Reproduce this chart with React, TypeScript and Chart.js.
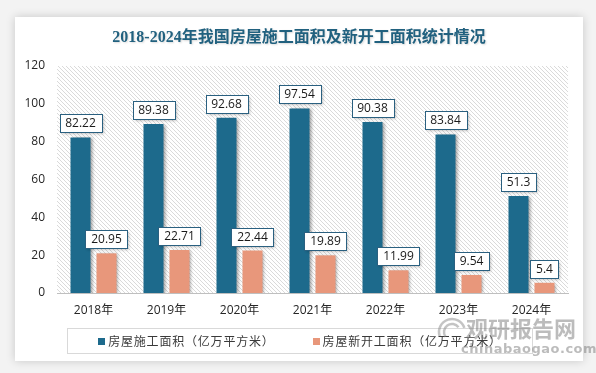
import React, { useEffect, useRef } from "react";
import { Chart, registerables } from "chart.js";

Chart.register(...registerables);

const chartTitle = "2018-2024年我国房屋施工面积及新开工面积统计情况";
const categories = ["2018年", "2019年", "2020年", "2021年", "2022年", "2023年", "2024年"];
const constructionArea = [82.22, 89.38, 92.68, 97.54, 90.38, 83.84, 51.3];
const newStartArea = [20.95, 22.71, 22.44, 19.89, 11.99, 9.54, 5.4];
const seriesNames = ["房屋施工面积（亿万平方米）", "房屋新开工面积（亿万平方米）"];
const seriesColors = ["#1d6a8c", "#e8977b"];
const yMin = 0;
const yMax = 120;
const yStep = 20;
const watermarkCn = "观研报告网";
const watermarkEn = "chinabaogao.com";

const W = 596;
const H = 373;
const FONT = "'Open Sans', 'Noto Sans CJK SC', sans-serif";

function makePattern(ctx: CanvasRenderingContext2D) {
  const c = document.createElement("canvas");
  c.width = 4;
  c.height = 4;
  const p = c.getContext("2d")!;
  p.fillStyle = "#ffffff";
  p.fillRect(0, 0, 4, 4);
  p.strokeStyle = "#dadada";
  p.lineWidth = 1;
  p.beginPath();
  p.moveTo(-1, -1);
  p.lineTo(5, 5);
  p.moveTo(-1, 3);
  p.lineTo(1, 5);
  p.moveTo(3, -1);
  p.lineTo(5, 1);
  p.stroke();
  return ctx.createPattern(c, "repeat");
}

const hatchPlugin = {
  id: "hatch",
  beforeDraw(chart: any) {
    const { ctx, chartArea } = chart;
    const pat = makePattern(ctx);
    if (!pat) return;
    ctx.save();
    ctx.fillStyle = pat;
    ctx.fillRect(chartArea.left, chartArea.top, chartArea.right - chartArea.left, chartArea.bottom - chartArea.top);
    ctx.restore();
    // title
    ctx.save();
    ctx.font = `bold 16px 'Liberation Serif', 'Noto Sans CJK SC', serif`;
    ctx.textAlign = "center";
    ctx.textBaseline = "middle";
    ctx.shadowColor = "rgba(0,0,0,0.15)";
    ctx.shadowBlur = 2;
    ctx.shadowOffsetX = 1;
    ctx.shadowOffsetY = 1;
    ctx.fillStyle = "#21617f";
    ctx.fillText(chartTitle, 299, 38);
    ctx.restore();
  },
};

const barDecorPlugin = {
  id: "barDecor",
  beforeDatasetsDraw(chart: any) {
    const ctx = chart.ctx;
    ctx.save();
    ctx.shadowColor = "rgba(0,0,0,0.35)";
    ctx.shadowBlur = 3;
    ctx.shadowOffsetX = 2;
    ctx.shadowOffsetY = 1;
  },
  afterDatasetsDraw(chart: any) {
    const ctx = chart.ctx;
    ctx.restore();
    ctx.save();
    ctx.font = `12px ${FONT}`;
    ctx.textAlign = "center";
    ctx.textBaseline = "middle";
    chart.data.datasets.forEach((ds: any, di: number) => {
      const meta = chart.getDatasetMeta(di);
      meta.data.forEach((el: any, i: number) => {
        const txt = String(ds.data[i]);
        const tw = ctx.measureText(txt).width;
        const bw = Math.round(tw + 11);
        const bh = 18;
        const bx = Math.round(el.x - bw / 2) + 0.5;
        const by = Math.round(el.y - 5 - bh) + 0.5;
        ctx.save();
        ctx.shadowColor = "rgba(0,0,0,0.3)";
        ctx.shadowBlur = 3;
        ctx.shadowOffsetX = 1;
        ctx.shadowOffsetY = 1;
        ctx.fillStyle = "#ffffff";
        ctx.fillRect(bx, by, bw, bh);
        ctx.restore();
        ctx.strokeStyle = "#2a6080";
        ctx.lineWidth = 1;
        ctx.strokeRect(bx, by, bw, bh);
        ctx.fillStyle = "#1a1a1a";
        ctx.fillText(txt, el.x, by + bh / 2 + 0.5);
      });
    });
    ctx.restore();
  },
};

const legendPlugin = {
  id: "customLegend",
  afterDraw(chart: any) {
    const ctx = chart.ctx;
    ctx.save();
    const boxX = 67.5;
    const boxY = 328.5;
    const boxW = 465;
    const boxH = 25;
    ctx.strokeStyle = "#d9d9d9";
    ctx.lineWidth = 1;
    ctx.strokeRect(boxX, boxY, boxW, boxH);
    ctx.font = `12px 'Noto Sans CJK SC', sans-serif`;
    (ctx as any).letterSpacing = "0.8px";
    ctx.textBaseline = "middle";
    ctx.textAlign = "left";
    const sq = 7;
    const gapSq = 3;
    const gapItems = 38;
    const items = chart.data.datasets.map((ds: any) => ({
      label: ds.label,
      color: ds.backgroundColor,
      w: ctx.measureText(ds.label).width,
    }));
    const total = items.reduce((s: number, it: any) => s + sq + gapSq + it.w, 0) + gapItems * (items.length - 1);
    let x = boxX + boxW / 2 - total / 2;
    const cy = boxY + boxH / 2;
    items.forEach((it: any) => {
      ctx.fillStyle = it.color;
      ctx.fillRect(Math.round(x), Math.round(cy - sq / 2), sq, sq);
      x += sq + gapSq;
      ctx.fillStyle = "#3a3a3a";
      ctx.fillText(it.label, x, cy + 0.5);
      x += it.w + gapItems;
    });
    ctx.restore();

    // watermark
    ctx.save();
    ctx.globalAlpha = 0.5;
    ctx.strokeStyle = "#8a8a8a";
    ctx.lineWidth = 2.5;
    ctx.beginPath();
    ctx.arc(452, 332, 13, Math.PI * 0.9, Math.PI * 1.9);
    ctx.stroke();
    ctx.beginPath();
    ctx.arc(452, 332, 8, Math.PI * 0.8, Math.PI * 1.8);
    ctx.stroke();
    ctx.fillStyle = "#7a7a7a";
    ctx.font = `bold 22px 'Noto Sans CJK SC', sans-serif`;
    ctx.textBaseline = "alphabetic";
    ctx.textAlign = "left";
    ctx.fillText(watermarkCn, 466, 337);
    ctx.font = `bold 13px 'DejaVu Sans', sans-serif`;
    (ctx as any).letterSpacing = "0.5px";
    ctx.fillText(watermarkEn, 461, 353);
    ctx.restore();
  },
};

export default function App() {
  const ref = useRef<HTMLCanvasElement | null>(null);

  useEffect(() => {
    if (!ref.current) return;
    const chart = new Chart(ref.current, {
      type: "bar",
      data: {
        labels: categories,
        datasets: [
          {
            label: seriesNames[0],
            data: constructionArea,
            backgroundColor: seriesColors[0],
            categoryPercentage: 0.712,
            barPercentage: 0.77,
          },
          {
            label: seriesNames[1],
            data: newStartArea,
            backgroundColor: seriesColors[1],
            categoryPercentage: 0.712,
            barPercentage: 0.77,
          },
        ],
      },
      options: {
        responsive: false,
        animation: false,
        layout: { padding: { left: 0, right: 28, top: 66, bottom: 50 } },
        plugins: {
          legend: { display: false },
          tooltip: { enabled: false },
          title: { display: false },
        },
        scales: {
          x: {
            grid: { display: false, drawTicks: false },
            border: { display: true, color: "#bfbfbf", width: 1 },
            ticks: { color: "#262626", font: { family: FONT, size: 12 }, padding: 10 },
            afterFit(scale: any) {
              scale.height = 30;
            },
          },
          y: {
            min: yMin,
            max: yMax,
            grid: { display: false, drawTicks: false },
            border: { display: false },
            ticks: { stepSize: yStep, color: "#262626", font: { family: FONT, size: 12 }, padding: 12 },
            afterFit(scale: any) {
              scale.width = 57;
            },
          },
        },
      } as any,
      plugins: [hatchPlugin, barDecorPlugin, legendPlugin],
    });
    return () => chart.destroy();
  }, []);

  return (
    <div
      style={{
        position: "fixed",
        left: 0,
        top: 0,
        width: W,
        height: H,
        background: "#f3f3f3",
        overflow: "hidden",
      }}
    >
      <div
        style={{
          position: "absolute",
          left: 15,
          top: 17,
          width: 568,
          height: 344,
          background: "#ffffff",
          boxShadow: "0 0 9px rgba(0,0,0,0.18)",
        }}
      />
      <canvas ref={ref} width={W} height={H} style={{ position: "absolute", left: 0, top: 0 }} />
    </div>
  );
}
